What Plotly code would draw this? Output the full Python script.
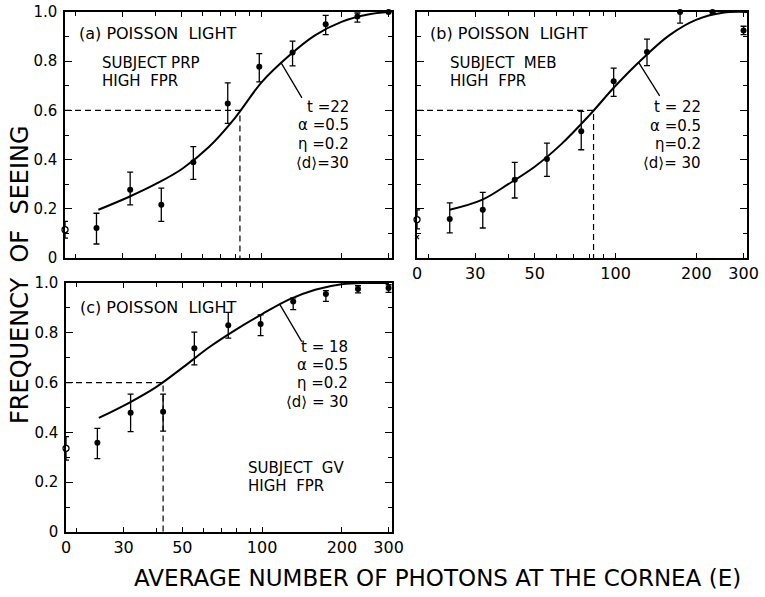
import math
import plotly.graph_objects as go

# ---------------- data ----------------
E_ZERO = 18.2  # position of the "0" (no light) point at the left axis break
x_tick_vals = [E_ZERO, 30, 50, 100, 200, 300]
x_tick_text = ["0", "30", "50", "100", "200", "300"]
x_long_ticks = [50, 100]
x_minor_vals = [20, 40, 60, 70, 80, 90]
y_tick_vals = [0, 0.2, 0.4, 0.6, 0.8, 1.0]
y_tick_text = ["0", "0.2", "0.4", "0.6", "0.8", "1.0"]
y_minor_vals = [0.1, 0.3, 0.5, 0.7, 0.9]

# panel (a) subject PRP
a_E = [23.9, 32.0, 41.9, 55.3, 74.5, 97.9, 130.6, 174, 229, 300]
a_P = [0.122, 0.277, 0.216, 0.389, 0.628, 0.777, 0.835, 0.950, 0.982, 1.0]
a_hi = [0.182, 0.349, 0.284, 0.453, 0.712, 0.831, 0.882, 0.986, 0.996, 1.0]
a_lo = [0.057, 0.216, 0.149, 0.320, 0.547, 0.716, 0.781, 0.908, 0.959, 1.0]
a_zero = [0.115, 0.149, 0.081]  # value, upper, lower
a_curve_E = [24.3, 31.6, 39.8, 50.1, 63.1, 79.4, 100, 126, 158.5, 199.5, 251, 300]
a_curve_P = [0.196, 0.248, 0.300, 0.362, 0.450, 0.570, 0.715, 0.820, 0.905, 0.960, 0.990, 1.0]
a_E60 = 82.8

# panel (b) subject MEB
b_E = [24.1, 32.0, 42.1, 55.5, 74.5, 98.4, 131, 174, 230, 300]
b_P = [0.159, 0.196, 0.318, 0.402, 0.515, 0.718, 0.837, 1.0, 1.0, 0.925]
b_hi = [0.224, 0.267, 0.389, 0.467, 0.596, 0.772, 0.890, 1.0, 1.0, 0.942]
b_lo = [0.102, 0.122, 0.244, 0.332, 0.440, 0.657, 0.782, 0.955, 0.990, 0.908]
b_zero = [0.156, 0.196, 0.118]
b_zero_x = 0.085
b_curve_E = [24.1, 31.6, 39.8, 50.1, 63.1, 79.4, 100, 126, 158.5, 199.5, 251, 309]
b_curve_P = [0.196, 0.235, 0.300, 0.372, 0.465, 0.577, 0.700, 0.810, 0.905, 0.968, 0.997, 1.0]
b_E60 = 82.8

# panel (c) subject GV
c_E = [23.9, 31.9, 42.3, 55.5, 74.5, 98.7, 131, 174, 230, 300]
c_P = [0.358, 0.479, 0.483, 0.738, 0.830, 0.835, 0.926, 0.956, 0.976, 0.980]
c_hi = [0.416, 0.554, 0.554, 0.803, 0.882, 0.872, 0.940, 0.969, 0.989, 0.993]
c_lo = [0.295, 0.403, 0.405, 0.671, 0.779, 0.789, 0.893, 0.926, 0.960, 0.962]
c_zero = [0.336, 0.383, 0.289]
c_curve_E = [24.2, 31.6, 39.8, 50.1, 63.1, 79.4, 100, 126, 158.5, 199.5, 251, 300]
c_curve_P = [0.458, 0.520, 0.582, 0.660, 0.742, 0.812, 0.875, 0.933, 0.973, 0.995, 1.0, 1.0]
c_E60 = 42.3

# leader line anchor points on the curves
a_lead = (118.0, 0.795)
b_lead = (121.9, 0.795)
c_lead = (116.4, 0.915)

FONT = "DejaVu Sans"
W, H = 765, 597


def px_x(px):
    return px / W


def px_y(py):
    return 1 - py / H


fig = go.Figure()


def add_panel(xr, yr, E, P, hi, lo, zero, cE, cP, e60):
    fig.add_trace(go.Scatter(
        x=cE, y=cP, mode="lines", line=dict(color="black", width=2, shape="spline", smoothing=1.0),
        xaxis=xr, yaxis=yr, showlegend=False, hoverinfo="skip", cliponaxis=False))
    fig.add_trace(go.Scatter(
        x=E, y=P, mode="markers",
        marker=dict(color="black", size=6),
        error_y=dict(type="data", symmetric=False,
                     array=[h - p for h, p in zip(hi, P)],
                     arrayminus=[p - l for p, l in zip(P, lo)],
                     color="black", thickness=1.3, width=3),
        xaxis=xr, yaxis=yr, showlegend=False, cliponaxis=False))
    fig.add_trace(go.Scatter(
        x=[E_ZERO], y=[zero[0]], mode="markers",
        marker=dict(color="white", size=6, line=dict(color="black", width=1.3)),
        error_y=dict(type="data", symmetric=False, array=[zero[1] - zero[0]],
                     arrayminus=[zero[0] - zero[2]], color="black", thickness=1.3, width=3),
        xaxis=xr, yaxis=yr, showlegend=False, cliponaxis=False))
    # 0.6 threshold dashed lines
    fig.add_trace(go.Scatter(
        x=[E_ZERO, e60, e60], y=[0.6, 0.6, 0], mode="lines",
        line=dict(color="black", width=1.2, dash="6px,4px"),
        xaxis=xr, yaxis=yr, showlegend=False, hoverinfo="skip"))


add_panel("x", "y", a_E, a_P, a_hi, a_lo, a_zero, a_curve_E, a_curve_P, a_E60)
add_panel("x2", "y2", b_E, b_P, b_hi, b_lo, b_zero, b_curve_E, b_curve_P, b_E60)
add_panel("x3", "y3", c_E, c_P, c_hi, c_lo, c_zero, c_curve_E, c_curve_P, c_E60)

fig.add_trace(go.Scatter(
    x=[E_ZERO], y=[b_zero_x], mode="markers",
    marker=dict(symbol="x-thin", size=4, color="black", line=dict(width=1.2, color="black")),
    xaxis="x2", yaxis="y2", showlegend=False, cliponaxis=False))

XRANGE = [1.26, 2.49]


def xaxis(domain, anchor, labels):
    return dict(
        type="log", range=XRANGE, domain=domain, anchor=anchor, automargin=False,
        tickmode="array", tickvals=x_tick_vals, ticktext=x_tick_text,
        showticklabels=labels, ticks="inside", ticklen=5, tickwidth=1.2, tickcolor="black",
        minor=dict(tickmode="array", tickvals=x_minor_vals, ticks="inside", ticklen=4,
                   tickwidth=1.2, tickcolor="black", showgrid=False),
        mirror="ticks", showline=True, linecolor="black", linewidth=1.5,
        showgrid=False, zeroline=False,
        tickfont=dict(family=FONT, size=16, color="black"), ticklabelstandoff=0)


def xlong(domain, anchor, over):
    return dict(
        type="log", range=XRANGE, domain=domain, anchor=anchor, overlaying=over, automargin=False,
        tickmode="array", tickvals=x_long_ticks, showticklabels=False,
        ticks="inside", ticklen=10, tickwidth=1.2, tickcolor="black",
        mirror="ticks", showline=False, showgrid=False, zeroline=False)


def yaxis(domain, anchor, labels):
    return dict(
        range=[0, 1], domain=domain, anchor=anchor, automargin=False,
        tickmode="array", tickvals=y_tick_vals, ticktext=y_tick_text,
        showticklabels=labels, ticks="inside", ticklen=7, tickwidth=1.2, tickcolor="black",
        minor=dict(tickmode="array", tickvals=y_minor_vals, ticks="inside",
                   ticklen=4, tickwidth=1.2, tickcolor="black", showgrid=False),
        mirror="ticks", showline=True, linecolor="black", linewidth=1.5,
        showgrid=False, zeroline=False,
        tickfont=dict(family=FONT, size=15, color="black"), ticklabelstandoff=3)


dxa = [px_x(65), px_x(392)]
dxb = [px_x(417), px_x(747)]
dxc = [px_x(66), px_x(392)]
dyab = [px_y(258), px_y(12)]
dyc = [px_y(532), px_y(283)]

fig.update_layout(
    width=W, height=H, margin=dict(l=0, r=0, t=0, b=0, pad=0, autoexpand=False),
    paper_bgcolor="white", plot_bgcolor="white",
    xaxis=xaxis(dxa, "y", False), yaxis=yaxis(dyab, "x", True),
    xaxis2=xaxis(dxb, "y2", True), yaxis2=yaxis(dyab, "x2", False),
    xaxis3=xaxis(dxc, "y3", True), yaxis3=yaxis(dyc, "x3", True),
    xaxis4=xlong(dxa, "y", "x"), xaxis5=xlong(dxb, "y2", "x2"), xaxis6=xlong(dxc, "y3", "x3"),
    font=dict(family=FONT, color="black"),
)

anns = []


def txt(s, px, py, size=15, anchor="left"):
    anns.append(dict(text=s, x=px_x(px), y=px_y(py), xref="paper", yref="paper",
                     xanchor=anchor, yanchor="middle", showarrow=False,
                     font=dict(family=FONT, size=size, color="black")))


# panel (a)
txt("(a) POISSON  LIGHT", 77, 33, 16)
txt("SUBJECT PRP", 100, 63)
txt("HIGH  FPR", 100, 81)
for s, py in [("t =22", 107), ("α =0.5", 125), ("η =0.2", 144), ("⟨d⟩=30", 163)]:
    txt(s, 351, py, 15, "right")
# panel (b)
txt("(b) POISSON  LIGHT", 428, 33, 16)
txt("SUBJECT  MEB", 448, 63)
txt("HIGH  FPR", 448, 81)
for s, py in [("t = 22", 107), ("α =0.5", 126), ("η=0.2", 144), ("⟨d⟩= 30", 163)]:
    txt(s, 703, py, 15, "right")
# panel (c)
txt("(c) POISSON  LIGHT", 78, 307, 16)
for s, py in [("t = 18", 347), ("α =0.5", 365), ("η =0.2", 383), ("⟨d⟩ = 30", 402)]:
    txt(s, 350, py, 15, "right")
txt("SUBJECT  GV", 246, 468)
txt("HIGH  FPR", 246, 486)

# leader lines
for (lx, ly), xr, yr, ax, ay in [(a_lead, "x", "y", 22, 37), (b_lead, "x2", "y2", 22, 35),
                                 (c_lead, "x3", "y3", 23, 39)]:
    anns.append(dict(x=math.log10(lx), y=ly, xref=xr, yref=yr, ax=ax, ay=ay,
                     axref="pixel", ayref="pixel", text="", showarrow=True,
                     arrowhead=0, arrowwidth=1.3, arrowcolor="black", standoff=0))

# axis titles
anns.append(dict(text="FREQUENCY  OF  SEEING", x=px_x(20), y=px_y(275), xref="paper", yref="paper",
                 textangle=-90, showarrow=False, xanchor="center", yanchor="middle",
                 font=dict(family=FONT, size=24, color="black")))
anns.append(dict(text="AVERAGE NUMBER OF PHOTONS AT THE CORNEA (E)", x=px_x(437), y=px_y(578),
                 xref="paper", yref="paper", showarrow=False, xanchor="center", yanchor="middle",
                 font=dict(family=FONT, size=23, color="black")))

fig.update_layout(annotations=anns)
fig.write_html("out.html", config={"displayModeBar": False},
               post_script="document.body.style.margin='0px';")
